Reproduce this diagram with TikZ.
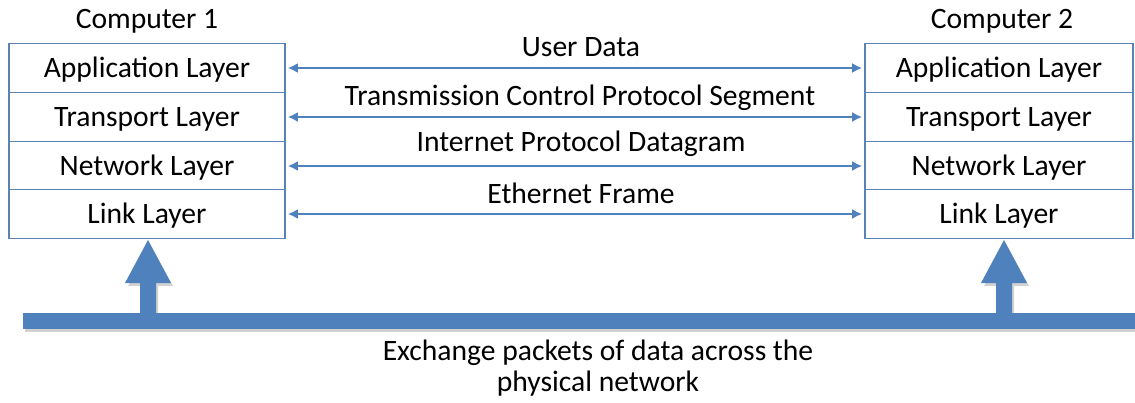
\documentclass[tikz,border=0pt]{standalone}
\usepackage{fontspec}
\setmainfont{Carlito}
\usetikzlibrary{arrows.meta}
\definecolor{ppblue}{HTML}{4F81BD}
\definecolor{boxline}{HTML}{5A82B4}
\tikzset{
  layer/.style={draw=boxline, line width=0.8pt, fill=white, inner sep=0pt,
    minimum height=24.4pt, text height=11pt, text depth=1.5pt,
    font=\fontsize{14.8}{17}\selectfont, text=black},
  leftlayer/.style={layer, minimum width=138pt},
  rightlayer/.style={layer, minimum width=134pt},
  txt/.style={font=\fontsize{14.8}{17}\selectfont, inner sep=0pt, text=black},
  dbl/.style={draw=ppblue, line width=1.4pt, {Latex[length=5pt,width=5pt]}-{Latex[length=5pt,width=5pt]}, shorten <=1pt, shorten >=1pt},
  thick blue/.style={fill=ppblue, draw=none},
  shade blue/.style={fill=black, opacity=0.18, draw=none}
}
\begin{document}
\begin{tikzpicture}[x=0.5pt,y=-0.5pt]
\useasboundingbox (0,0) rectangle (1135,402);
% computer labels
\node[txt] (c1) at (147,21) {Computer 1};
\node[txt] (c2) at (1002,21) {Computer 2};
% left stack
\node[leftlayer] (la) at (147,68) {Application Layer};
\node[leftlayer] (lt) at (147,117) {Transport Layer};
\node[leftlayer] (ln) at (147,166) {Network Layer};
\node[leftlayer] (ll) at (147,214) {Link Layer};
% right stack
\node[rightlayer] (ra) at (999,68) {Application Layer};
\node[rightlayer] (rt) at (999,117) {Transport Layer};
\node[rightlayer] (rn) at (999,166) {Network Layer};
\node[rightlayer] (rl) at (999,214) {Link Layer};
% arrows
\draw[dbl] (la.east) -- (ra.west);
\draw[dbl] (lt.east) -- (rt.west);
\draw[dbl] (ln.east) -- (rn.west);
\draw[dbl] (ll.east) -- (rl.west);
% arrow labels
\node[txt] (ud) at (581,47) {User Data};
\node[txt] (tcp) at (580,98) {Transmission Control Protocol Segment};
\node[txt] (ip) at (581,144) {Internet Protocol Datagram};
\node[txt] (eth) at (581,193) {Ethernet Frame};
% shadows
\fill[shade blue] (25,317) rectangle (1135,332);
\fill[shade blue] (143,286) -- (128,286) -- (150,244) -- (173,286) -- (158,286) -- (158,313) -- (143,313) -- cycle;
\fill[shade blue] (999,286) -- (984,286) -- (1006,244) -- (1029,286) -- (1014,286) -- (1014,313) -- (999,313) -- cycle;
% physical network bar with up arrows
\fill[thick blue] (23,313) rectangle (1135,329);
\fill[thick blue] (140,314) -- (140,283) -- (125,283) -- (148,240) -- (171,283) -- (156,283) -- (156,314) -- cycle;
\fill[thick blue] (996,314) -- (996,283) -- (981,283) -- (1004,240) -- (1027,283) -- (1012,283) -- (1012,314) -- cycle;
% bottom label
\node[txt, align=center] (phys) at (598,368) {Exchange packets of data across the\\[-1.5pt]physical network};
\end{tikzpicture}
\end{document}
